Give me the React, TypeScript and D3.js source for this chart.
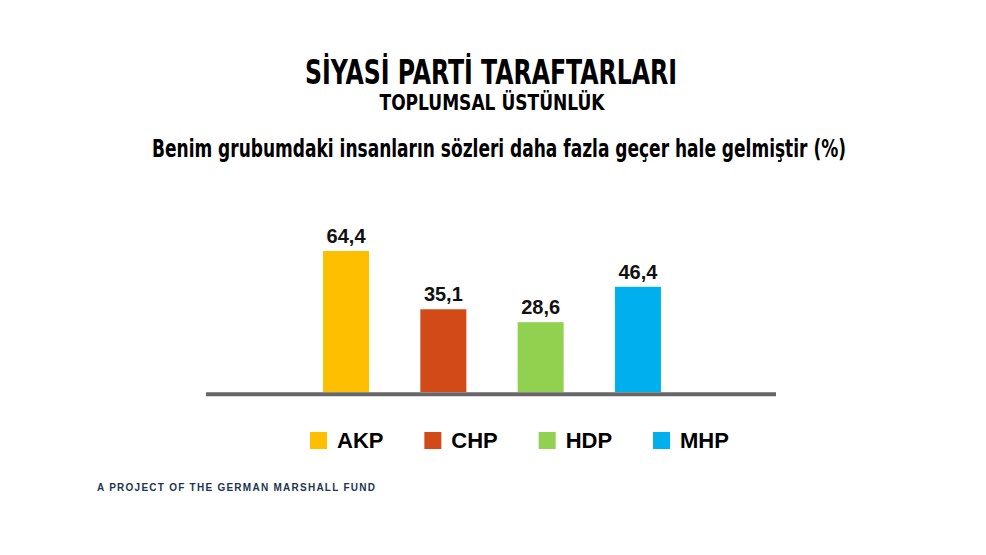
import React from 'react';
import * as d3 from 'd3';

const parties = ['AKP', 'CHP', 'HDP', 'MHP'];
const values = [64.4, 35.1, 28.6, 46.4];
const colors = ['#FDBF00', '#D24A17', '#92D050', '#00B0EE'];

const W = 986;
const H = 555;
const narrow = '"Liberation Sans Narrow", "DejaVu Sans Condensed", "Roboto Condensed", sans-serif';
const sans = '"Liberation Sans", Arial, Helvetica, sans-serif';

const App: React.FC = () => {
  const x = d3.scaleBand().domain(parties).range([274.4, 709.6]).paddingInner(0.527).paddingOuter(0.5);
  const y = d3.scaleLinear().domain([-6.5, 64.4]).range([392, 251]);
  const legendX = d3.scalePoint().domain(parties).range([310, 653]);

  return (
    <svg width={W} height={H} style={{ display: 'block', position: 'absolute', left: 0, top: 0 }}>
      <rect width={W} height={H} fill="#fff" />
      <text x={491} y={84} textAnchor="middle" fontFamily={narrow} fontWeight="bold" fontSize={33}
        textLength={372} lengthAdjust="spacingAndGlyphs" fill="#000">SİYASİ PARTİ TARAFTARLARI</text>
      <text x={492} y={110} textAnchor="middle" fontFamily={narrow} fontWeight="bold" fontSize={22}
        textLength={225} lengthAdjust="spacingAndGlyphs" fill="#000">TOPLUMSAL ÜSTÜNLÜK</text>
      <text x={499} y={157} textAnchor="middle" fontFamily={narrow} fontWeight="bold" fontSize={25}
        textLength={694} lengthAdjust="spacingAndGlyphs" fill="#000">Benim grubumdaki insanların sözleri daha fazla geçer hale gelmiştir (%)</text>

      {parties.map((p, i) => (
        <g key={p}>
          <rect x={x(p)} y={y(values[i])} width={x.bandwidth()} height={y(-6.5) - y(values[i])} fill={colors[i]} />
          <text x={(x(p) as number) + x.bandwidth() / 2} y={y(values[i]) - 8} textAnchor="middle"
            fontFamily={sans} fontWeight="bold" fontSize={20} fill="#111">{values[i].toFixed(1).replace('.', ',')}</text>
        </g>
      ))}
      <line x1={206} x2={776} y1={394.3} y2={394.3} stroke="#666" strokeWidth={4} />

      {parties.map((p, i) => (
        <g key={'l' + p} transform={`translate(${legendX(p)},432)`}>
          <rect width={17} height={17} fill={colors[i]} />
          <text x={27} y={16} fontFamily={sans} fontWeight="bold" fontSize={22} fill="#000">{p}</text>
        </g>
      ))}

      <text x={97} y={491} fontFamily={sans} fontWeight="bold" fontSize={10} fill="#1d3552"
        textLength={278} lengthAdjust="spacing">A PROJECT OF THE GERMAN MARSHALL FUND</text>
    </svg>
  );
};

export default App;
